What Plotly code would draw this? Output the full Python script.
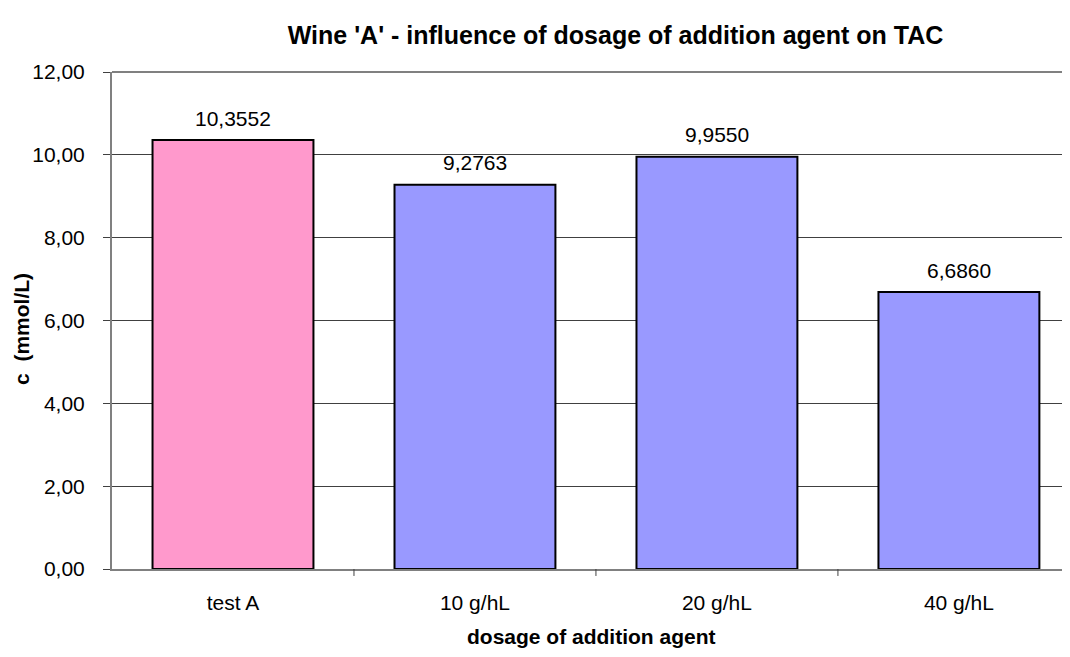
import plotly.graph_objects as go

categories = ["test A", "10 g/hL", "20 g/hL", "40 g/hL"]
values = [10.3552, 9.2763, 9.9550, 6.6860]
bar_colors = ["#FF99CC", "#9999FF", "#9999FF", "#9999FF"]
y_ticks = [0, 2, 4, 6, 8, 10, 12]

font = "Liberation Sans, Arial, sans-serif"

fig = go.Figure()
fig.add_trace(go.Bar(
    x=list(range(len(categories))),
    y=values,
    marker=dict(color=bar_colors, line=dict(color="#000000", width=2)),
    width=0.665,
    hoverinfo="skip",
))

# value labels above bars
for i, v in enumerate(values):
    fig.add_annotation(x=i, y=v, xref="x", yref="y",
                       text=f"{v:.4f}".replace(".", ","), showarrow=False,
                       yanchor="middle", yshift=22,
                       font=dict(family=font, size=21, color="#000000"))

fig.update_layout(
    width=1054, height=641,
    margin=dict(l=104, r=0, t=64, b=80),
    paper_bgcolor="white", plot_bgcolor="white",
    separators=",.",
    showlegend=False,
    font=dict(family=font, size=21, color="#000000"),
    title=dict(
        text="<b>Wine 'A' - influence of dosage of addition agent on TAC</b>",
        x=0.5764, xanchor="center", y=0.958, yanchor="middle",
        font=dict(family=font, size=25, color="#000000"),
    ),
    xaxis=dict(
        range=[-0.5, 3.426],
        tickmode="array",
        tickvals=list(range(len(categories))),
        ticktext=categories,
        showgrid=False,
        showline=True, linecolor="#808080", linewidth=2,
        ticks="", zeroline=False,
        ticklabelstandoff=14,
        tickfont=dict(family=font, size=21),
    ),
    yaxis=dict(
        range=[0, 12],
        tickmode="array",
        tickvals=y_ticks,
        tickformat=".2f",
        showgrid=True, gridcolor="#404040", gridwidth=1,
        showline=True, linecolor="#808080", linewidth=2,
        ticks="outside", ticklen=7, tickcolor="#404040",
        zeroline=False,
        ticklabelstandoff=14,
        tickfont=dict(family=font, size=21),
    ),
)

fig.add_annotation(text="<b>dosage of addition agent</b>", xref="paper", yref="paper",
                   x=0.505, y=0, xanchor="center", yanchor="middle", yshift=-67,
                   showarrow=False, font=dict(family=font, size=21))
fig.add_annotation(text="<b>c  (mmol/L)</b>", xref="paper", yref="paper",
                   x=0, y=0.483, xanchor="center", yanchor="middle", xshift=-90,
                   textangle=-90, showarrow=False, font=dict(family=font, size=21))

# category boundary tick marks under the x axis
for b in [0.5, 1.5, 2.5]:
    fig.add_shape(type="line", xref="x", yref="paper", x0=b, x1=b, y0=0, y1=-0.014,
                  line=dict(color="#404040", width=1))
fig.add_shape(type="line", xref="paper", yref="paper", x0=0, x1=1, y0=1, y1=1,
              line=dict(color="#808080", width=2))

fig.write_html("out.html")
